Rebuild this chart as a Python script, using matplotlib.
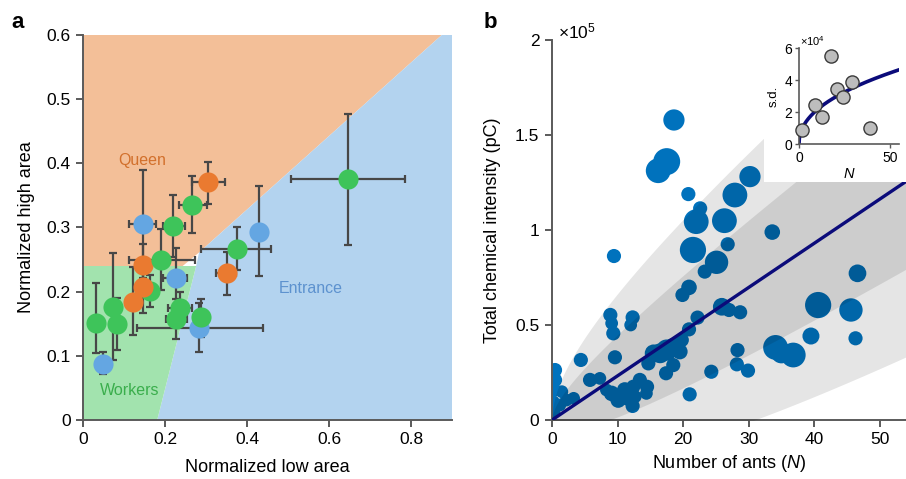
import numpy as np
import matplotlib
matplotlib.use('Agg')
import matplotlib.pyplot as plt
from matplotlib.patches import Polygon, Rectangle

plt.rcParams['font.family'] = ['Liberation Sans', 'DejaVu Sans']
plt.rcParams['mathtext.fontset'] = 'custom'
plt.rcParams['mathtext.rm'] = 'Liberation Sans'
plt.rcParams['mathtext.it'] = 'Liberation Sans:italic'

# ---- panel a: normalized low / high area per group ----
low = [0.048, 0.032, 0.074, 0.082, 0.121, 0.163, 0.147, 0.146, 0.190, 0.146, 0.219,
       0.227, 0.267, 0.304, 0.237, 0.228, 0.284, 0.287, 0.375, 0.350, 0.430, 0.647]
high = [0.088, 0.151, 0.176, 0.150, 0.184, 0.201, 0.207, 0.242, 0.249, 0.306, 0.302,
        0.221, 0.335, 0.371, 0.175, 0.157, 0.144, 0.161, 0.267, 0.229, 0.293, 0.375]
low_min = [0.040, 0.028, 0.068, 0.076, 0.115, 0.151, 0.140, 0.139, 0.113, 0.113, 0.196,
           0.196, 0.235, 0.265, 0.208, 0.202, 0.131, 0.280, 0.289, 0.325, 0.422, 0.507]
low_max = [0.056, 0.036, 0.080, 0.088, 0.127, 0.176, 0.154, 0.153, 0.273, 0.178, 0.249,
           0.253, 0.302, 0.346, 0.265, 0.254, 0.438, 0.294, 0.458, 0.374, 0.438, 0.785]
high_min = [0.072, 0.104, 0.093, 0.109, 0.132, 0.176, 0.166, 0.205, 0.202, 0.222, 0.254,
            0.176, 0.291, 0.337, 0.150, 0.126, 0.106, 0.130, 0.234, 0.195, 0.224, 0.272]
high_max = [0.106, 0.214, 0.260, 0.190, 0.239, 0.226, 0.245, 0.275, 0.298, 0.390, 0.351,
            0.268, 0.380, 0.402, 0.200, 0.188, 0.182, 0.188, 0.301, 0.262, 0.364, 0.477]
group = ['E', 'W', 'W', 'W', 'Q', 'W', 'Q', 'Q', 'W', 'E', 'W',
         'E', 'W', 'Q', 'W', 'W', 'E', 'W', 'W', 'Q', 'E', 'W']

# ---- panel b: total chemical intensity vs number of ants ----
ants = [18.6, 16.2, 17.5, 30.2, 27.9, 20.8, 22.6, 22.0, 26.3, 21.5, 26.8, 33.6, 9.45, 25.1, 23.3,
        20.9, 19.9, 46.6, 40.6, 45.6, 46.3, 39.5, 25.9, 27.0, 28.7, 22.2, 20.9, 28.3, 28.2, 29.9,
        34.1, 35.0, 36.8, 24.3, 21.0, 8.9, 9.1, 9.35, 12.3, 12.0, 9.6, 4.4, 5.8, 7.3, 14.7,
        15.5, 16.5, 17.5, 18.5, 19.5, 18.5, 17.4, 19.8, 9.1, 10.1, 11.1, 12.4, 13.4, 14.5, 12.3,
        11.4, 8.3, 0.46, 0.46, 0.46, 0.2, 0.3, 1.5, 3.3, 2.2, 1.2, 12.7, 14.4]
intensity = [1.579, 1.312, 1.360, 1.281, 1.184, 1.189, 1.114, 1.044, 1.049, 0.895, 0.925, 0.989,
             0.863, 0.830, 0.781, 0.698, 0.658, 0.772, 0.605, 0.579, 0.430, 0.442, 0.596, 0.579,
             0.567, 0.539, 0.477, 0.368, 0.293, 0.260, 0.382, 0.354, 0.342, 0.254, 0.135, 0.553,
             0.509, 0.456, 0.540, 0.500, 0.330, 0.316, 0.211, 0.219, 0.298, 0.351, 0.351, 0.368,
             0.386, 0.360, 0.289, 0.246, 0.421, 0.140, 0.105, 0.158, 0.175, 0.211, 0.175, 0.074,
             0.114, 0.158, 0.263, 0.211, 0.158, 0.096, 0.044, 0.149, 0.114, 0.105, 0.079, 0.123,
             0.140]  # x1e5 pC
weight = [1.5, 1.75, 1.9, 1.5, 1.75, 1.0, 1.0, 1.75, 1.75, 1.85, 1.0, 1.1, 1.0, 1.65, 1.0,
          1.1, 1.0, 1.25, 1.85, 1.65, 1.0, 1.2, 1.25, 1.0, 1.0, 1.0, 1.0, 1.0, 1.0, 1.0,
          1.75, 1.5, 1.75, 1.0, 1.0, 1.0, 0.9, 1.0, 1.0, 0.9, 1.0, 1.0, 1.0, 0.9, 1.0,
          1.25, 1.4, 1.5, 1.25, 1.1, 1.0, 1.0, 1.0, 1.1, 1.1, 1.1, 1.0, 1.0, 1.0, 1.0,
          1.0, 0.9, 1.0, 1.0, 0.9, 0.9, 0.9, 0.9, 0.9, 0.9, 0.9, 0.9, 0.9]

# inset: s.d. vs N
sd_ants = [1.5, 8.7, 12.9, 17.8, 20.9, 24.2, 29.1, 39.3]
sd_vals = [0.9, 2.46, 1.69, 5.52, 3.44, 2.98, 3.92, 1.04]  # x1e4

# fitted model: mean = slope*N, s.d. = a*N^b
slope = 2325.0
sd_a, sd_b = 7670.0, 0.45

region_col = {'Q': '#f3bf98', 'E': '#b3d3ef', 'W': '#a2e3ae'}
dot_col = {'Q': '#ea7a30', 'E': '#64a6e2', 'W': '#3ec45a'}
text_col = {'Q': '#d2702c', 'E': '#5d92cf', 'W': '#3aae4c'}
spine_col = '#5a5a5a'

fig = plt.figure(figsize=(9.06, 4.79), dpi=100)

# ===== panel a =====
ax = fig.add_axes([83/906, 1-420/479, 369/906, 385/479])
ax.add_patch(Polygon([(0, 0.24), (0.243, 0.24), (0.283, 0.261), (0.875, 0.6), (0, 0.6)],
                     closed=True, fc=region_col['Q'], ec='none', zorder=0))
ax.add_patch(Polygon([(0.181, 0), (0.9, 0), (0.9, 0.6), (0.875, 0.6), (0.283, 0.261), (0.276, 0.24)],
                     closed=True, fc=region_col['E'], ec='none', zorder=0))
ax.add_patch(Polygon([(0, 0), (0.181, 0), (0.276, 0.24), (0, 0.24)],
                     closed=True, fc=region_col['W'], ec='none', zorder=0))

low_a = np.array(low)
high_a = np.array(high)
xerr = [low_a - np.array(low_min), np.array(low_max) - low_a]
yerr = [high_a - np.array(high_min), np.array(high_max) - high_a]
ax.errorbar(low_a, high_a, xerr=xerr, yerr=yerr, fmt='none', ecolor='#474747',
            elinewidth=1.6, capsize=3, capthick=1.6, zorder=2)
for x, y, g in zip(low, high, group):
    ax.plot(x, y, 'o', ms=14.5, color=dot_col[g], mec='none', zorder=3)

ax.text(0.145, 0.405, 'Queen', color=text_col['Q'], fontsize=11.5, ha='center', va='center')
ax.text(0.555, 0.205, 'Entrance', color=text_col['E'], fontsize=11.5, ha='center', va='center')
ax.text(0.115, 0.046, 'Workers', color=text_col['W'], fontsize=11.5, ha='center', va='center')

ax.set_xlim(0, 0.9)
ax.set_ylim(0, 0.6)
ax.set_xticks([0, 0.2, 0.4, 0.6, 0.8])
ax.set_xticklabels(['0', '0.2', '0.4', '0.6', '0.8'])
ax.set_yticks([0, 0.1, 0.2, 0.3, 0.4, 0.5, 0.6])
ax.set_yticklabels(['0', '0.1', '0.2', '0.3', '0.4', '0.5', '0.6'])
ax.set_xlabel('Normalized low area', fontsize=13, labelpad=8)
ax.set_ylabel('Normalized high area', fontsize=13, labelpad=8)

# ===== panel b =====
bx = fig.add_axes([552/906, 1-420/479, 354/906, 380/479])
nn = np.linspace(0, 54, 400)
mean = slope * nn
sd = sd_a * nn ** sd_b
bx.fill_between(nn, mean - 2*sd, mean + 2*sd, color='black', alpha=0.1, lw=0, zorder=3)
bx.fill_between(nn, mean - sd, mean + sd, color='black', alpha=0.1, lw=0, zorder=3)
bx.scatter(ants, np.array(intensity) * 1e5, s=(np.array(weight) * 10.2) ** 2,
           color='#0072bd', edgecolors='none', zorder=2)
bx.plot(nn, mean, color='#0b0b7a', lw=2.4, zorder=4)

bx.set_xlim(0, 54)
bx.set_ylim(0, 2e5)
bx.set_xticks([0, 10, 20, 30, 40, 50])
bx.set_yticks([0, 0.5e5, 1e5, 1.5e5, 2e5])
bx.set_yticklabels(['0', '0.5', '1', '1.5', '2'])
bx.set_xlabel('Number of ants ($\\it{N}$)', fontsize=13, labelpad=4)
bx.set_ylabel('Total chemical intensity (pC)', fontsize=13, labelpad=10)
fig.text(558/906, 1-31/479, '$\\times\\mathregular{10^5}$', fontsize=12.5, va='center')

for a in (ax, bx):
    for s in ('top', 'right'):
        a.spines[s].set_visible(False)
    for s in ('left', 'bottom'):
        a.spines[s].set_color(spine_col)
        a.spines[s].set_linewidth(1.4)
    a.tick_params(direction='out', length=5, width=1.4, color=spine_col,
                  labelsize=12.5, pad=4)

# ===== inset =====
fig.add_artist(Rectangle((764/906, 1-182/479), 142/906, 182/479,
                         transform=fig.transFigure, fc='white', ec='none', zorder=5))
ix = fig.add_axes([799/906, 1-144.3/479, 100/906, 96/479], zorder=6)
ix.patch.set_alpha(0)
ni = np.linspace(0, 55, 300)
ix.plot(ni, sd_a * ni ** sd_b / 1e4, color='#0b0b7a', lw=2.6, zorder=2)
ix.scatter(sd_ants, sd_vals, s=90, color='#bdbdbd', edgecolors='#3a3a3a',
           linewidths=1.0, zorder=3, clip_on=False)
ix.set_xlim(0, 55)
ix.set_ylim(0, 6)
ix.set_xticks([0, 50])
ix.set_yticks([0, 2, 4, 6])
for s in ('top', 'right'):
    ix.spines[s].set_visible(False)
for s in ('left', 'bottom'):
    ix.spines[s].set_color(spine_col)
    ix.spines[s].set_linewidth(1.2)
ix.tick_params(direction='out', length=3, width=1.0, color=spine_col, labelsize=10, pad=2)
ix.set_xlabel('$\\it{N}$', fontsize=10.5, labelpad=1)
ix.set_ylabel('s.d.', fontsize=9.5, labelpad=3)
ix.text(0.01, 1.0, '$\\times\\mathregular{10^4}$', transform=ix.transAxes,
        fontsize=8, va='bottom', ha='left')

fig.text(18/906, 1-22/479, 'a', fontsize=16, fontweight='bold', ha='center', va='center')
fig.text(490/906, 1-22/479, 'b', fontsize=16, fontweight='bold', ha='center', va='center')

fig.savefig('out.png', dpi=100)
